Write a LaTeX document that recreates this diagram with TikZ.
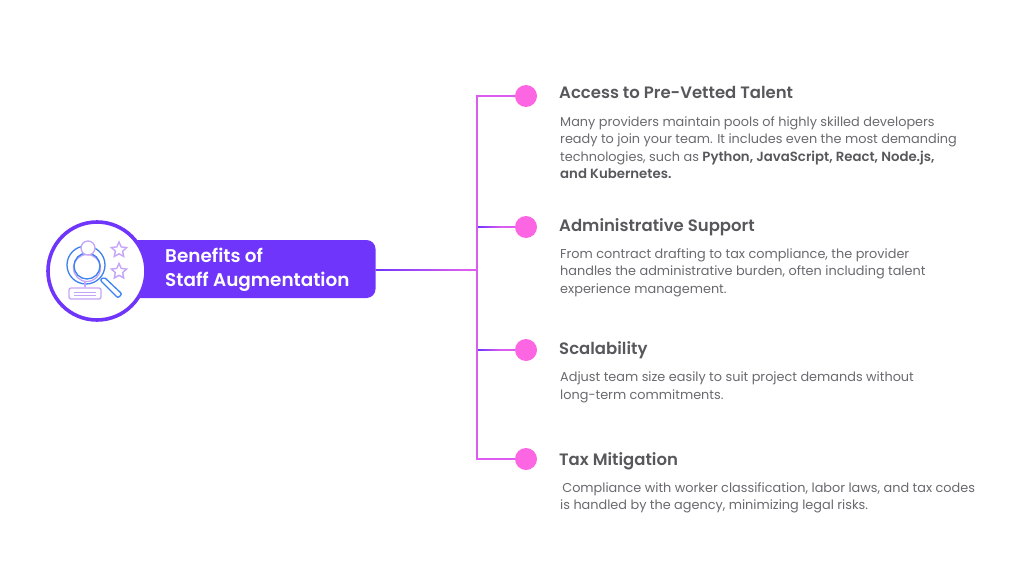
\documentclass[tikz,border=0pt]{standalone}
\usepackage{fontspec}
\setmainfont{Poppins}[BoldFont={Poppins SemiBold}]
\usetikzlibrary{calc,shapes.geometric}
\definecolor{hubviolet}{HTML}{6F35FB}
\definecolor{dotpink}{HTML}{FD66E2}
\definecolor{linkpink}{HTML}{DC5CF0}
\definecolor{headgrey}{HTML}{58585C}
\definecolor{bodygrey}{HTML}{69696E}
\definecolor{glassblue}{HTML}{3C82F0}
\definecolor{lilac}{HTML}{C4A5F8}
\newcommand{\bodybold}[1]{{\fontsize{13.3}{17.5}\selectfont\bfseries\color{headgrey}#1}}
\tikzset{
  dotnode/.style={circle,fill=dotpink,minimum size=22pt,inner sep=0pt},
  linkline/.style={linkpink,line width=1.9pt},
  starnode/.style={star,star points=5,star point ratio=2.1,draw=lilac,line width=1.4pt,minimum size=16pt,inner sep=0pt},
  headtext/.style={anchor=base west,inner sep=0pt,text=headgrey,font=\fontsize{16.5}{20}\selectfont\bfseries},
  bodytext/.style={anchor=north west,inner sep=0pt,align=left,text=bodygrey,font=\fontsize{12.85}{17.5}\selectfont},
}
\begin{document}
\begin{tikzpicture}[x=1pt,y=-1pt]
\useasboundingbox (0,0) rectangle (1024,583);
% hub
\node[fill=hubviolet,rounded corners=9pt,minimum width=265pt,minimum height=58pt,inner sep=0pt] (hub) at (243,269) {};
\node[anchor=west,inner sep=0pt,align=left,text=white,font=\fontsize{18.4}{24}\selectfont\bfseries] (hubtext) at (165,269.5) {Benefits of\\Staff Augmentation};
\node[circle,draw=hubviolet,fill=white,line width=3.6pt,minimum size=98pt,inner sep=0pt] (badge) at (97,271) {};
% dots and trunk
\node[dotnode] (dotA) at (526,96) {};
\node[dotnode] (dotB) at (526,227) {};
\node[dotnode] (dotC) at (526,350) {};
\node[dotnode] (dotD) at (526,459) {};
\coordinate (trunk) at (477,270);
\draw[linkline] (dotA.west) -| (trunk);
\draw[linkline] (dotD.west) -| (trunk);
\draw[linkline] (dotB.west) -- (dotB.west -| trunk);
\draw[linkline] (dotC.west) -- (dotC.west -| trunk);
\draw[linkline] (hub.east |- trunk) -- (trunk);
% violet fades on the links
\path[left color=hubviolet,right color=linkpink] ($(hub.east |- trunk)+(0,-.95)$) rectangle ($(trunk)+(-14,.95)$);
\path[left color=hubviolet,right color=linkpink] ($(dotB.west -| trunk)+(1,-.95)$) rectangle ($(dotB.west)+(-14,.95)$);
\path[left color=hubviolet,right color=linkpink] ($(dotC.west -| trunk)+(1,-.95)$) rectangle ($(dotC.west)+(-14,.95)$);
% icon
\node[circle,draw=lilac,line width=1.3pt,minimum size=27pt,inner sep=0pt] (body) at (87,268) {};
\node[circle,draw=glassblue,line width=1.3pt,minimum size=38pt,inner sep=0pt] (lens) at (86,265) {};
\node[circle,draw=glassblue,line width=1.3pt,minimum size=26pt,inner sep=0pt] (lensin) at (87,266) {};
\draw[glassblue,line width=1.3pt,rounded corners=2pt,fill=white] (100,280) -- (118,298) -- (122,294) -- (104,277) -- cycle;
\node[circle,draw=lilac,fill=white,line width=1.3pt,minimum size=14pt,inner sep=0pt] (head) at (88,248) {};
\node[rectangle,rounded corners=2pt,draw=lilac,fill=white,line width=1.3pt,minimum width=32pt,minimum height=11pt,inner sep=0pt] (tag) at (85,293.5) {};
\draw[lilac,line width=1.3pt] (tag.north) -- ++(0,-5);
\draw[lilac,line width=1pt] (74,292) -- (96,292) (74,295.5) -- (96,295.5);
\node[starnode] (starA) at (119,250) {};
\node[starnode] (starB) at (119,271.5) {};
% texts
\node[headtext] (headA) at (559,99) {Access to Pre-Vetted Talent};
\node[bodytext] (bodyA) at (560,116) {Many providers maintain pools of highly skilled developers\\ready to join your team. It includes even the most demanding\\technologies, such as \bodybold{Python, JavaScript, React, Node.js,}\\\bodybold{and Kubernetes.}};
\node[headtext] (headB) at (559,231) {Administrative Support};
\node[bodytext] (bodyB) at (560,248) {From contract drafting to tax compliance, the provider\\handles the administrative burden, often including talent\\experience management.};
\node[headtext] (headC) at (559,354) {Scalability};
\node[bodytext] (bodyC) at (560,372) {Adjust team size easily to suit project demands without\\long-term commitments.};
\node[headtext] (headD) at (559,465) {Tax Mitigation};
\node[bodytext] (bodyD) at (560,482) { \,Compliance with worker classification, labor laws, and tax codes\\is handled by the agency, minimizing legal risks.};
\end{tikzpicture}
\end{document}
